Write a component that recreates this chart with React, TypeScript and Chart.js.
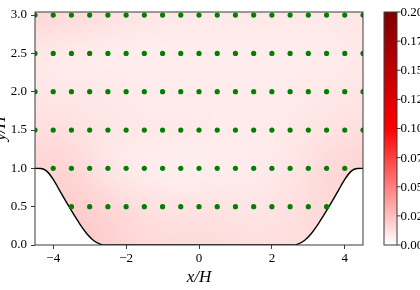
import React, { useEffect, useRef } from 'react';
import { Chart, registerables } from 'chart.js';
Chart.register(...registerables);

// ---- tick labels ----
const xTicks = [-4, -2, 0, 2, 4];
const yTicks = [0, 0.5, 1.0, 1.5, 2.0, 2.5, 3.0];
const cbTicks = [0, 0.025, 0.05, 0.075, 0.1, 0.125, 0.15, 0.175, 0.2];

// ---- probe locations (green dots) ----
const probeRowsUpper = [3.0, 2.5, 2.0, 1.5];
const probeXUpper = [-4.5, -4, -3.5, -3, -2.5, -2, -1.5, -1, -0.5, 0, 0.5, 1, 1.5, 2, 2.5, 3, 3.5, 4, 4.5];
const probeRowMid = 1.0;
const probeXMid = [-4, -3.5, -3, -2.5, -2, -1.5, -1, -0.5, 0, 0.5, 1, 1.5, 2, 2.5, 3, 3.5, 4];
const probeRowLow = 0.5;
const probeXLow = [-3.5, -3, -2.5, -2, -1.5, -1, -0.5, 0, 0.5, 1, 1.5, 2, 2.5, 3, 3.5];

// ---- hill profile ----
const hillX = [-4.5, -4.339, -4.179, -4.0, -3.893, -3.786, -3.607, -3.429, -3.25, -3.071, -2.893, -2.714, -2.571,
  2.571, 2.714, 2.893, 3.071, 3.25, 3.429, 3.607, 3.786, 3.893, 4.0, 4.179, 4.339, 4.5];
const hillY = [1.0, 0.998, 0.964, 0.857, 0.770, 0.679, 0.532, 0.393, 0.259, 0.143, 0.059, 0.012, 0,
  0, 0.012, 0.059, 0.143, 0.259, 0.393, 0.532, 0.679, 0.770, 0.857, 0.964, 0.998, 1.0];

// ---- background field (coarse samples) ----
const fieldX = [-4.5, -3.5, -2.5, -1.5, -0.5, 0.5, 1.5, 2.5, 3.5, 4.5];
const fieldY = [3.0, 2.5, 2.0, 1.5, 1.0, 0.5, 0.0];
const fieldRow30 = [0.016, 0.014, 0.012, 0.010, 0.009, 0.009, 0.009, 0.009, 0.009, 0.010];
const fieldRow25 = [0.009, 0.008, 0.007, 0.007, 0.007, 0.007, 0.007, 0.007, 0.008, 0.009];
const fieldRow20 = [0.010, 0.009, 0.009, 0.008, 0.008, 0.008, 0.008, 0.008, 0.009, 0.010];
const fieldRow15 = [0.013, 0.012, 0.010, 0.009, 0.009, 0.008, 0.008, 0.009, 0.011, 0.013];
const fieldRow10 = [0.017, 0.016, 0.010, 0.007, 0.006, 0.007, 0.008, 0.010, 0.015, 0.017];
const fieldRow05 = [0.018, 0.020, 0.016, 0.012, 0.011, 0.011, 0.010, 0.012, 0.015, 0.017];
const fieldRow00 = [0.018, 0.022, 0.019, 0.015, 0.014, 0.014, 0.013, 0.013, 0.015, 0.017];
const fieldV = [fieldRow30, fieldRow25, fieldRow20, fieldRow15, fieldRow10, fieldRow05, fieldRow00];

const VMAX = 0.2;
function cmap(v: number): [number, number, number] {
  const t = Math.max(0, Math.min(1, v / VMAX));
  if (t < 0.5) {
    const s = t / 0.5;
    return [255, Math.round(255 * (1 - s)), Math.round(255 * (1 - s))];
  }
  const s = (t - 0.5) / 0.5;
  return [Math.round(255 - 127 * s), 0, 0];
}

const SERIF = '"Liberation Serif", "Times New Roman", serif';

const fieldPlugin = {
  id: 'fieldPlugin',
  beforeDatasetsDraw(chart: any) {
    const { ctx, chartArea: ca, scales } = chart;
    const x = scales.x, y = scales.y;
    const off = document.createElement('canvas');
    off.width = fieldX.length;
    off.height = fieldY.length;
    const octx = off.getContext('2d')!;
    const img = octx.createImageData(off.width, off.height);
    fieldV.forEach((row, j) => row.forEach((v, i) => {
      const [r, g, b] = cmap(v);
      const k = (j * off.width + i) * 4;
      img.data[k] = r; img.data[k + 1] = g; img.data[k + 2] = b; img.data[k + 3] = 255;
    }));
    octx.putImageData(img, 0, 0);
    const hx = (fieldX[1] - fieldX[0]) / 2;
    const hy = (fieldY[0] - fieldY[1]) / 2;
    const x0 = x.getPixelForValue(fieldX[0] - hx);
    const x1 = x.getPixelForValue(fieldX[fieldX.length - 1] + hx);
    const y0 = y.getPixelForValue(fieldY[0] + hy);
    const y1 = y.getPixelForValue(fieldY[fieldY.length - 1] - hy);
    ctx.save();
    ctx.beginPath();
    ctx.rect(ca.left, ca.top, ca.right - ca.left, ca.bottom - ca.top);
    ctx.clip();
    ctx.imageSmoothingEnabled = true;
    ctx.imageSmoothingQuality = 'high';
    ctx.drawImage(off, x0, y0, x1 - x0, y1 - y0);
    ctx.restore();
  },
  afterDatasetsDraw(chart: any) {
    const { ctx, chartArea: ca } = chart;
    ctx.save();
    ctx.strokeStyle = '#3a3a3a';
    ctx.lineWidth = 1;
    ctx.strokeRect(ca.left, ca.top, ca.right - ca.left, ca.bottom - ca.top);
    ctx.restore();
  },
  afterDraw(chart: any) {
    const { ctx, chartArea: ca, scales } = chart;
    const cb = scales.cb;
    // colorbar
    const bx = ca.right + 21;
    const bw = 13;
    const top = cb.getPixelForValue(VMAX);
    const bot = cb.getPixelForValue(0);
    const grad = ctx.createLinearGradient(0, bot, 0, top);
    grad.addColorStop(0, 'rgb(255,255,255)');
    grad.addColorStop(0.5, 'rgb(255,0,0)');
    grad.addColorStop(1, 'rgb(128,0,0)');
    ctx.save();
    ctx.fillStyle = grad;
    ctx.fillRect(bx, top, bw, bot - top);
    ctx.strokeStyle = '#3a3a3a';
    ctx.lineWidth = 1;
    ctx.strokeRect(bx, top, bw, bot - top);
    ctx.fillStyle = '#000';
    ctx.font = `13px ${SERIF}`;
    ctx.textAlign = 'left';
    ctx.textBaseline = 'middle';
    cbTicks.forEach((v) => {
      const py = cb.getPixelForValue(v);
      ctx.beginPath();
      ctx.moveTo(bx + bw, py);
      ctx.lineTo(bx + bw + 3.5, py);
      ctx.stroke();
      ctx.fillText(v.toFixed(3), bx + bw + 3.5, py + 0.5);
    });
    // axis titles
    ctx.fillStyle = '#000';
    ctx.font = `italic 17px ${SERIF}`;
    ctx.textAlign = 'center';
    ctx.textBaseline = 'alphabetic';
    ctx.fillText('x/H', (ca.left + ca.right) / 2, 282);
    ctx.translate(5, (ca.top + ca.bottom) / 2);
    ctx.rotate(-Math.PI / 2);
    ctx.fillText('y/H', 0, 0);
    ctx.restore();
  },
};

const fmtX = (v: number) => (v < 0 ? '\u2212' + Math.abs(v) : String(v));
const zeroPad = (s: any) => { s.paddingTop = 0; s.paddingBottom = 0; s.paddingLeft = 0; s.paddingRight = 0; };

export default function App() {
  const ref = useRef<HTMLCanvasElement>(null);
  useEffect(() => {
    if (!ref.current) return;
    const dots: { x: number; y: number }[] = [];
    probeRowsUpper.forEach((yy) => probeXUpper.forEach((xx) => dots.push({ x: xx, y: yy })));
    probeXMid.forEach((xx) => dots.push({ x: xx, y: probeRowMid }));
    probeXLow.forEach((xx) => dots.push({ x: xx, y: probeRowLow }));
    const hill = hillX.map((xx, i) => ({ x: xx, y: hillY[i] }));

    const tickFont = { family: SERIF, size: 13 };
    const chart = new Chart(ref.current, {
      type: 'scatter',
      data: {
        datasets: [
          {
            type: 'scatter',
            data: dots,
            pointRadius: 2.6,
            pointBorderWidth: 0,
            pointBackgroundColor: '#008000',
            pointBorderColor: '#008000',
            clip: 0,
            order: 1,
          } as any,
          {
            type: 'line',
            data: hill,
            borderColor: '#000',
            borderWidth: 1.4,
            pointRadius: 0,
            cubicInterpolationMode: 'monotone',
            fill: 'start',
            backgroundColor: '#ffffff',
            order: 2,
          } as any,
        ],
      },
      options: {
        animation: false,
        responsive: false,
        maintainAspectRatio: false,
        events: [],
        layout: { padding: { left: 0, right: 0, top: 12, bottom: 0 } },
        plugins: { legend: { display: false }, tooltip: { enabled: false } },
        scales: {
          x: {
            type: 'linear',
            min: -4.5,
            max: 4.5,
            afterBuildTicks: (s: any) => { s.ticks = xTicks.map((v) => ({ value: v })); },
            afterFit: (s: any) => { s.height = 45; zeroPad(s); },
            grid: { drawOnChartArea: false, drawTicks: true, tickLength: 4, color: '#3a3a3a', lineWidth: 1 },
            border: { display: false },
            ticks: { font: tickFont, color: '#000', padding: 2, maxRotation: 0, callback: (v: any) => fmtX(Number(v)) },
          },
          y: {
            type: 'linear',
            min: 0,
            max: 3.04,
            afterBuildTicks: (s: any) => { s.ticks = yTicks.map((v) => ({ value: v })); },
            afterFit: (s: any) => { s.width = 35; zeroPad(s); },
            grid: { drawOnChartArea: false, drawTicks: true, tickLength: 4, color: '#3a3a3a', lineWidth: 1 },
            border: { display: false },
            ticks: { font: tickFont, color: '#000', padding: 4, callback: (v: any) => Number(v).toFixed(1) },
          },
          cb: {
            type: 'linear',
            position: 'right',
            min: 0,
            max: 0.2,
            afterBuildTicks: (s: any) => { s.ticks = cbTicks.map((v) => ({ value: v })); },
            afterFit: (s: any) => { s.width = 57; zeroPad(s); },
            grid: { display: false, drawTicks: false, drawOnChartArea: false },
            border: { display: false },
            ticks: { display: false },
          },
        },
      } as any,
      plugins: [fieldPlugin],
    });
    return () => chart.destroy();
  }, []);
  return (
    <div style={{ position: 'fixed', left: 0, top: 0, width: 420, height: 290, background: '#fff' }}>
      <canvas ref={ref} width={420} height={290} style={{ width: 420, height: 290, display: 'block' }} />
    </div>
  );
}
